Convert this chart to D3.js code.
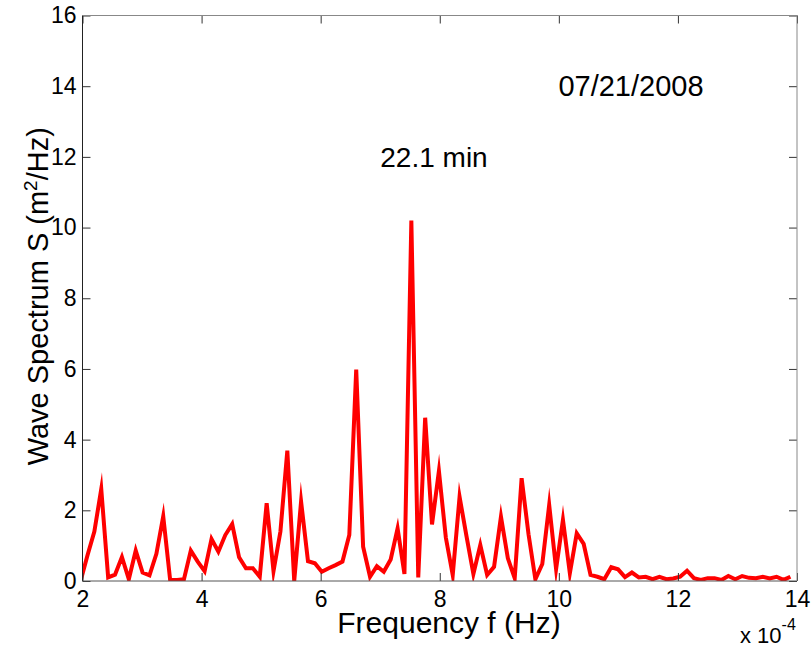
<!DOCTYPE html>
<html>
<head>
<meta charset="utf-8">
<script src="https://cdn.jsdelivr.net/npm/d3@7"></script>
<style>
  body { margin: 0; background: #fff; }
  text { font-family: Arial, "Liberation Sans", sans-serif; fill: #000; }
</style>
</head>
<body>
<svg id="chart" width="811" height="649"></svg>
<script>
// frequency (x 10^-4 Hz) and spectral density (m^2/Hz)
var freq = [1.968, 2.083, 2.199, 2.315, 2.431, 2.546, 2.662, 2.778, 2.894, 3.009,
  3.125, 3.241, 3.356, 3.472, 3.588, 3.704, 3.819, 3.935, 4.051, 4.167,
  4.282, 4.398, 4.514, 4.630, 4.745, 4.861, 4.977, 5.093, 5.208, 5.324,
  5.440, 5.556, 5.671, 5.787, 5.903, 6.019, 6.134, 6.250, 6.366, 6.481,
  6.597, 6.713, 6.829, 6.944, 7.060, 7.176, 7.292, 7.407, 7.523, 7.639,
  7.755, 7.870, 7.986, 8.102, 8.218, 8.333, 8.449, 8.565, 8.681, 8.796,
  8.912, 9.028, 9.144, 9.259, 9.375, 9.491, 9.606, 9.722, 9.838, 9.954,
  10.069, 10.185, 10.301, 10.417, 10.532, 10.648, 10.764, 10.880, 10.995, 11.111,
  11.227, 11.343, 11.458, 11.574, 11.690, 11.806, 11.921, 12.037, 12.153, 12.269,
  12.384, 12.500, 12.616, 12.731, 12.847, 12.963, 13.079, 13.194, 13.310, 13.426,
  13.542, 13.657, 13.773, 13.889];
var spec = [0.0, 0.72, 1.4, 2.6, 0.1, 0.18, 0.68, 0.05, 0.86, 0.24,
  0.16, 0.77, 1.83, 0.03, 0.03, 0.05, 0.86, 0.55, 0.28, 1.19,
  0.83, 1.3, 1.61, 0.67, 0.36, 0.36, 0.12, 2.2, 0.28, 1.4,
  3.69, 0.0, 2.25, 0.56, 0.5, 0.26, 0.36, 0.45, 0.55, 1.3,
  5.98, 0.97, 0.12, 0.42, 0.26, 0.61, 1.49, 0.2, 10.2, 0.1,
  4.62, 1.6, 3.11, 1.23, 0.17, 2.38, 1.27, 0.2, 1.02, 0.17,
  0.4, 1.82, 0.64, 0.08, 2.91, 1.32, 0.05, 0.48, 2.15, 0.34,
  1.73, 0.22, 1.35, 1.05, 0.17, 0.12, 0.05, 0.39, 0.33, 0.11,
  0.24, 0.1, 0.12, 0.05, 0.12, 0.05, 0.07, 0.12, 0.29, 0.08,
  0.03, 0.08, 0.08, 0.03, 0.14, 0.05, 0.14, 0.09, 0.08, 0.12,
  0.07, 0.12, 0.03, 0.12];
var xTicks = [2, 4, 6, 8, 10, 12, 14];
var yTicks = [0, 2, 4, 6, 8, 10, 12, 14, 16];

var svg = d3.select("#chart");
var mLeft = 82.5, mRight = 797, mTop = 15.5, mBottom = 581;
var width = mRight - mLeft, height = mBottom - mTop;

var x = d3.scaleLinear().domain([2, 14]).range([0, width]);
var y = d3.scaleLinear().domain([0, 16]).range([height, 0]);

var g = svg.append("g").attr("transform", "translate(" + mLeft + "," + mTop + ")");

g.append("clipPath").attr("id", "clip")
  .append("rect").attr("width", width).attr("height", height);

var line = d3.line()
  .x(function (d, i) { return x(freq[i]); })
  .y(function (d) { return y(d); });

g.append("path")
  .datum(spec)
  .attr("clip-path", "url(#clip)")
  .attr("fill", "none")
  .attr("stroke", "#ff0000")
  .attr("stroke-width", 4)
  .attr("stroke-linejoin", "miter")
  .attr("stroke-miterlimit", 10)
  .attr("d", line);

// axes (MATLAB style, inward ticks on all four sides)
var tickLen = 8;
function styleAxis(sel, col) {
  sel.select(".domain").remove();
  sel.selectAll(".tick line").attr("stroke", col);
  sel.selectAll(".tick text").style("font-size", "23px").attr("fill", "#000");
}
g.append("g").attr("transform", "translate(0," + height + ")")
  .call(d3.axisBottom(x).tickValues(xTicks).tickSizeInner(-tickLen).tickSizeOuter(0).tickPadding(10))
  .call(styleAxis, "#333");
g.append("g")
  .call(d3.axisLeft(y).tickValues(yTicks).tickSizeInner(-tickLen).tickSizeOuter(0).tickPadding(6))
  .call(styleAxis, "#333");
g.append("g")
  .call(d3.axisTop(x).tickValues(xTicks).tickSizeInner(-tickLen).tickSizeOuter(0).tickFormat(""))
  .call(styleAxis, "#333");
g.append("g").attr("transform", "translate(" + width + ",0)")
  .call(d3.axisRight(y).tickValues(yTicks).tickSizeInner(-tickLen).tickSizeOuter(0).tickFormat(""))
  .call(styleAxis, "#333");

// box
g.append("line").attr("x1", 0).attr("x2", 0).attr("y1", 0).attr("y2", height).attr("stroke", "#222");
g.append("line").attr("x1", 0).attr("x2", width).attr("y1", height).attr("y2", height).attr("stroke", "#555");
g.append("line").attr("x1", 0).attr("x2", width).attr("y1", 0).attr("y2", 0).attr("stroke", "#888");
g.append("line").attr("x1", width).attr("x2", width).attr("y1", 0).attr("y2", height).attr("stroke", "#888");

// labels
svg.append("text")
  .attr("x", 449).attr("y", 633)
  .attr("text-anchor", "middle").style("font-size", "30px")
  .text("Frequency f (Hz)");

var yl = svg.append("text")
  .attr("transform", "translate(48," + (mTop + height / 2 - 2) + ") rotate(-90)")
  .attr("text-anchor", "middle").style("font-size", "29px");
yl.append("tspan").text("Wave Spectrum S (m");
yl.append("tspan").attr("dy", -11).style("font-size", "19px").text("2");
yl.append("tspan").attr("dy", 11).text("/Hz)");

var ex = svg.append("text").attr("x", 740).attr("y", 643).style("font-size", "22px");
ex.append("tspan").text("x 10");
ex.append("tspan").attr("dy", -13).style("font-size", "16px").text("-4");

svg.append("text").attr("x", 631).attr("y", 96)
  .attr("text-anchor", "middle").style("font-size", "29px").text("07/21/2008");
svg.append("text").attr("x", 434).attr("y", 167)
  .attr("text-anchor", "middle").style("font-size", "28px").text("22.1 min");
</script>
</body>
</html>
